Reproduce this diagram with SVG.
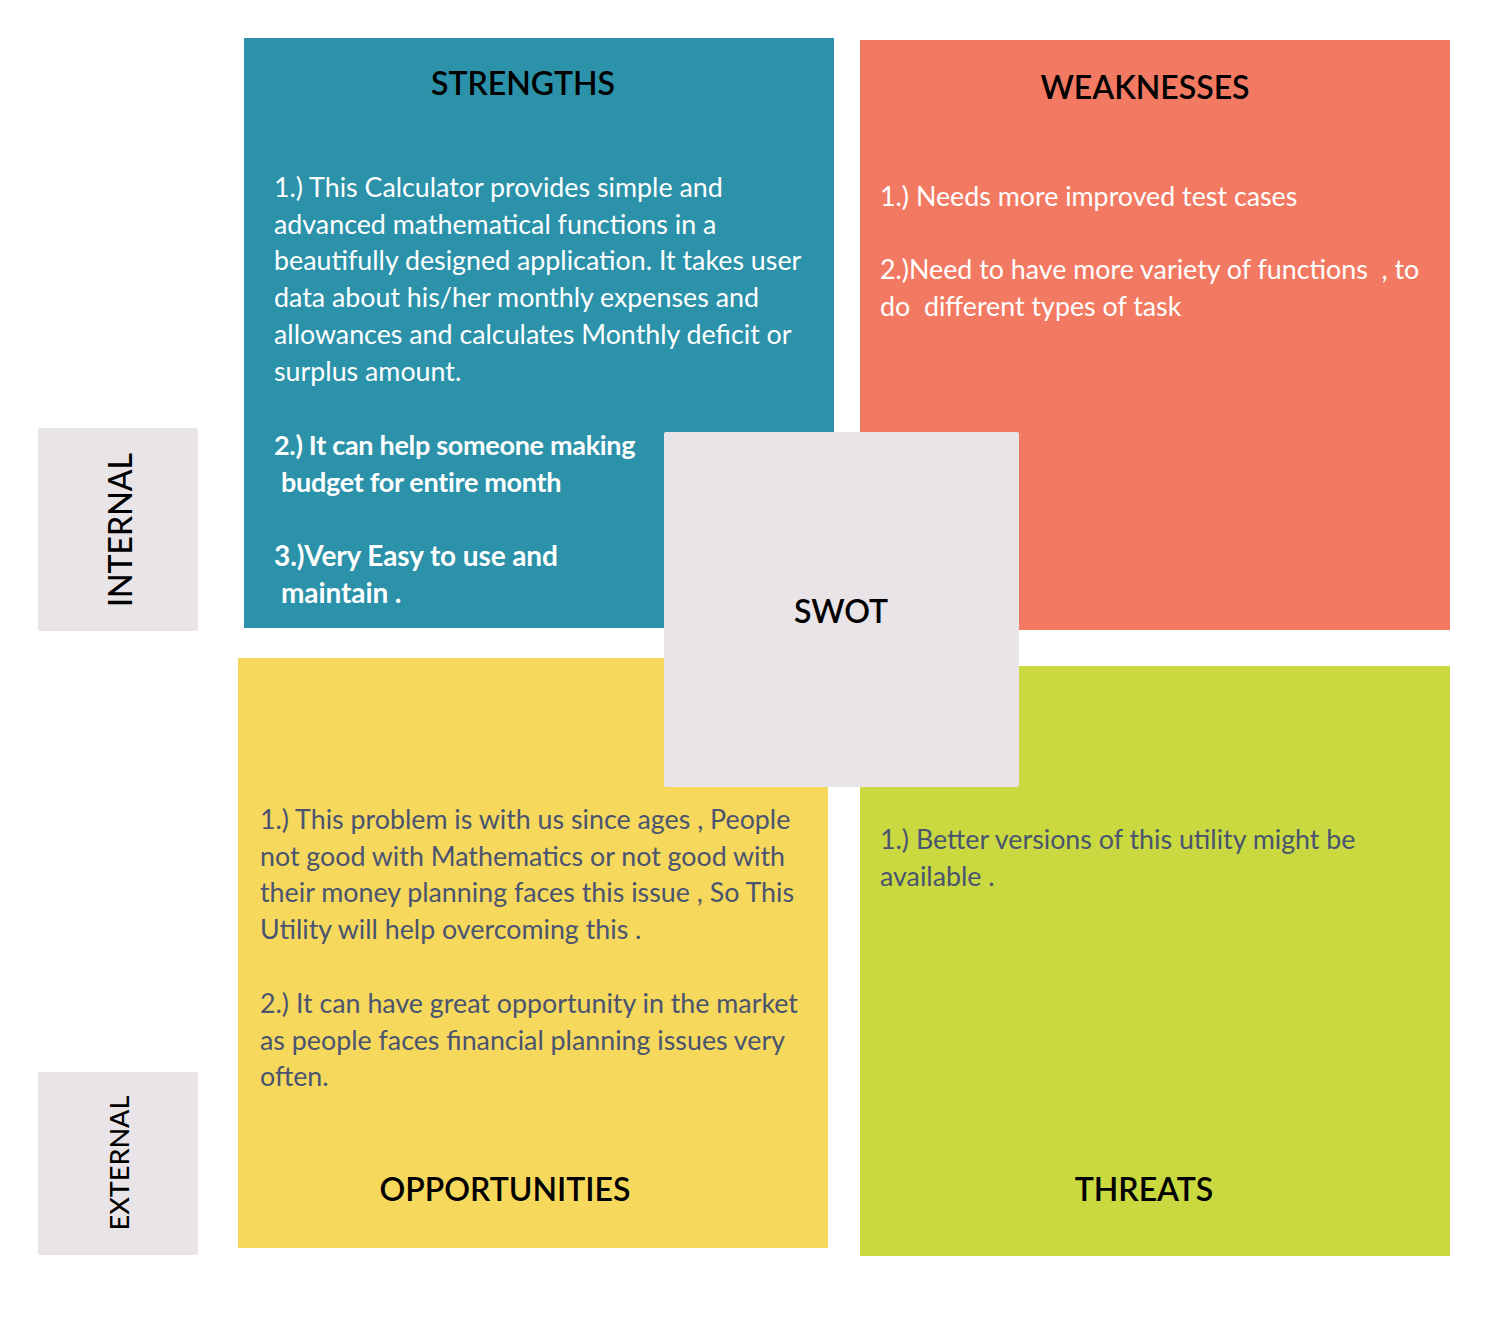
<svg xmlns="http://www.w3.org/2000/svg" width="1497" height="1342" viewBox="0 0 1497 1342">
<style>
.title{font-family:Lato,"Liberation Sans",sans-serif;font-size:32px;font-weight:600;fill:#000;text-anchor:middle}
.body{font-family:Lato,"Liberation Sans",sans-serif;font-size:26.8px;}
.w{fill:#fff}
.g{fill:#4a5470}
.b{font-weight:bold;letter-spacing:-0.3px;font-size:27px}
.b3{font-weight:bold;font-size:28px;letter-spacing:-0.1px}
.side{font-family:Lato,"Liberation Sans",sans-serif;fill:#000;text-anchor:middle;font-weight:500}
</style>
<rect width="1497" height="1342" fill="#fff"/>
<g id="internal">
<rect x="38" y="428" width="160" height="203" rx="2" fill="#e8e4e8"/>
<text class="side" font-size="32" transform="translate(132,530) rotate(-90)">INTERNAL</text>
</g>
<g id="external">
<rect x="38" y="1072" width="160" height="183" rx="2" fill="#e8e4e8"/>
<text class="side" font-size="27" transform="translate(129,1163) rotate(-90)">EXTERNAL</text>
</g>
<g id="strengths">
<rect x="244" y="38" width="590" height="590" fill="#2b92aa"/>
<text class="title" x="523" y="95">STRENGTHS</text>
<text class="body w" x="274" y="197">1.) This Calculator provides simple and</text>
<text class="body w" x="274" y="234">advanced mathematical functions in a</text>
<text class="body w" x="274" y="270">beautifully designed application. It takes user</text>
<text class="body w" x="274" y="307">data about his/her monthly expenses and</text>
<text class="body w" x="274" y="344">allowances and calculates Monthly deficit or</text>
<text class="body w" x="274" y="381">surplus amount.</text>
<text class="body w b" x="274" y="455">2.) It can help someone making</text>
<text class="body w b" x="281" y="492">budget for entire month</text>
<text class="body w b3" x="274" y="566">3.)Very Easy to use and</text>
<text class="body w b3" x="281" y="603">maintain .</text>
</g>
<g id="weaknesses">
<rect x="860" y="40" width="590" height="590" fill="#f27a62"/>
<text class="title" x="1145" y="99">WEAKNESSES</text>
<text class="body w" x="880" y="206">1.) Needs more improved test cases</text>
<text class="body w" x="880" y="279" xml:space="preserve">2.)Need to have more variety of functions  , to</text>
<text class="body w" x="880" y="316" xml:space="preserve">do  different types of task</text>
</g>
<g id="opportunities">
<rect x="238" y="658" width="590" height="590" fill="#f5d85c"/>
<text class="body g" x="260" y="829">1.) This problem is with us since ages , People</text>
<text class="body g" x="260" y="866">not good with Mathematics or not good with</text>
<text class="body g" x="260" y="902">their money planning faces this issue , So This</text>
<text class="body g" x="260" y="939">Utility will help overcoming this .</text>
<text class="body g" x="260" y="1013">2.) It can have great opportunity in the market</text>
<text class="body g" x="260" y="1050">as people faces financial planning issues very</text>
<text class="body g" x="260" y="1086">often.</text>
<text class="title" x="505" y="1201">OPPORTUNITIES</text>
</g>
<g id="threats">
<rect x="860" y="666" width="590" height="590" fill="#c9d93f"/>
<text class="body g" x="880" y="849">1.) Better versions of this utility might be</text>
<text class="body g" x="880" y="886">available .</text>
<text class="title" x="1144" y="1201">THREATS</text>
</g>
<g id="swot">
<rect x="664" y="432" width="355" height="355" rx="2" fill="#e8e4e8"/>
<text class="title" x="841" y="623">SWOT</text>
</g>
<g id="connectors"></g>
</svg>
